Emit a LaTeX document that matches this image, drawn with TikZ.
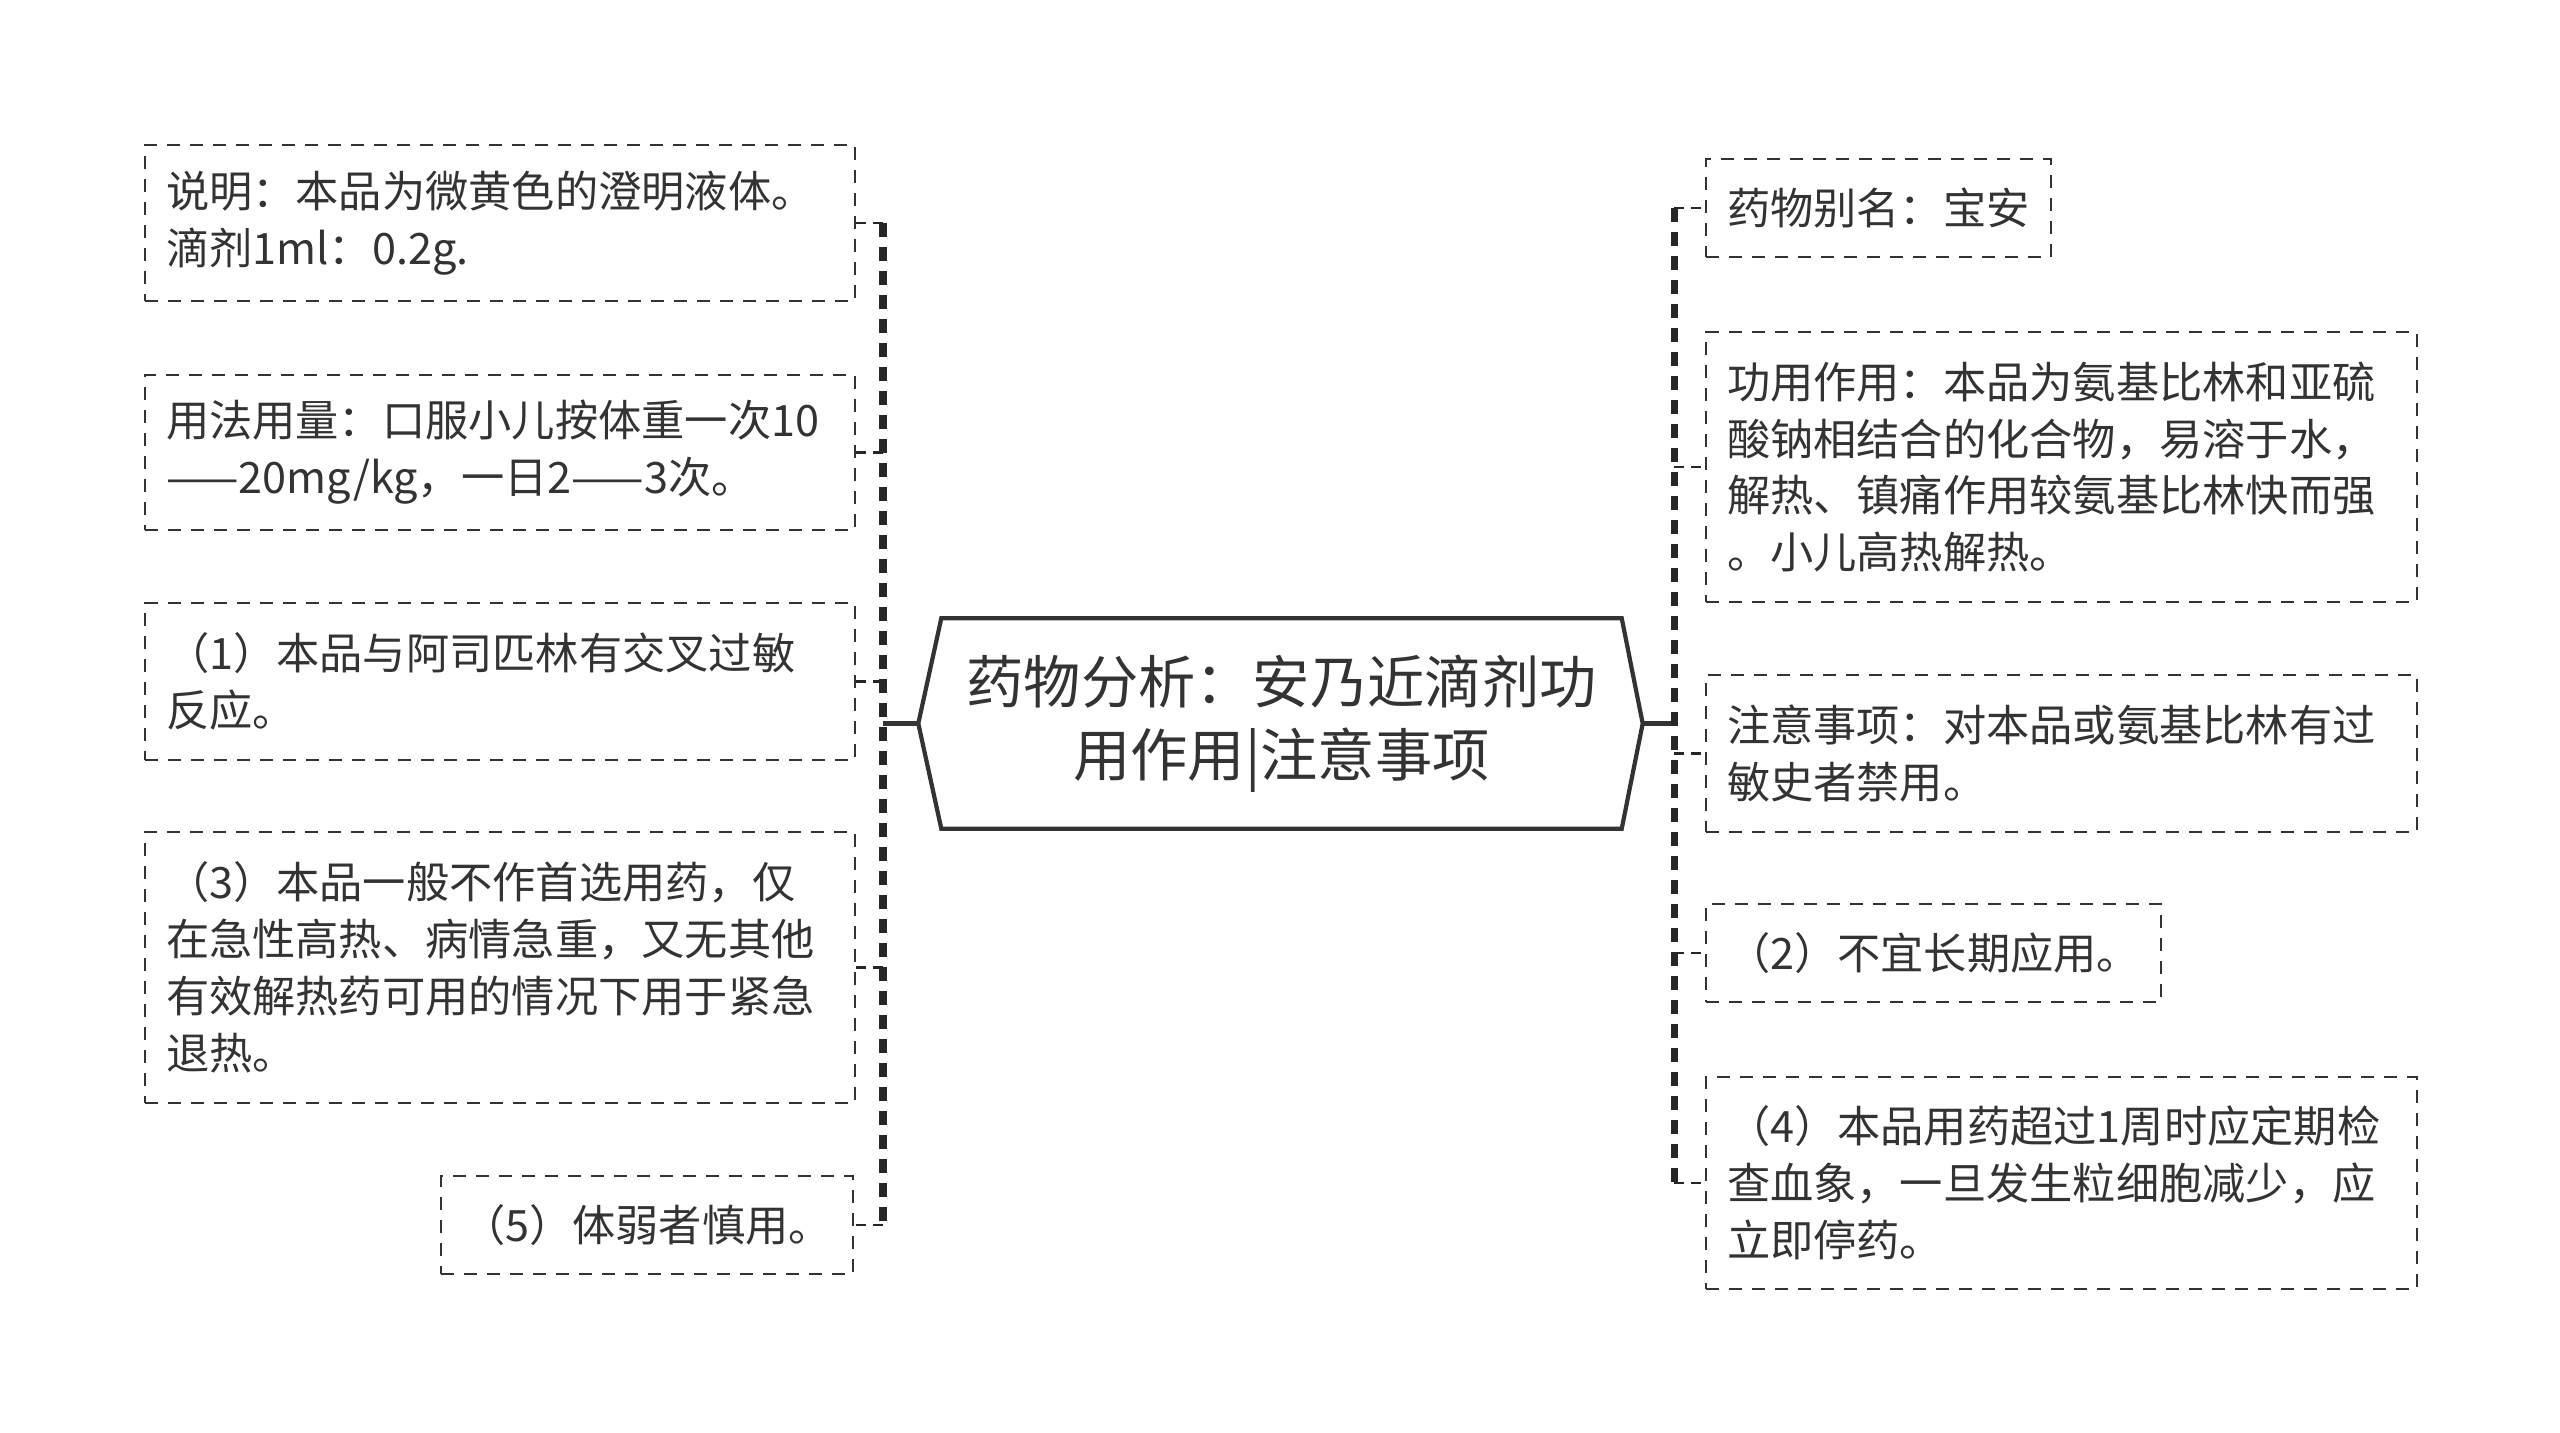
\documentclass[tikz,border=0pt]{standalone}
\usepackage{fontspec}
\setmainfont{Noto Sans CJK SC}
\definecolor{ink}{HTML}{333333}

\tikzset{
  leaf/.style={draw=ink, text=ink, line width=0.6pt, dash pattern=on 0.13cm off 0.1cm,
    inner xsep=0.21cm, inner ysep=0pt, align=left, font=\fontsize{12.3pt}{16.2pt}\selectfont},
  topic/.style={text=ink, inner sep=0pt, minimum width=6.79cm, minimum height=2.09cm,
    align=center, font=\fontsize{16.3pt}{20.8pt}\selectfont},
  spine/.style={black!85, line width=2pt, dash pattern=on 0.14cm off 0.1cm},
  tie/.style={black!85, line width=0.8pt, dash pattern=on 0.1cm off 0.07cm},
}

\begin{document}
\begin{tikzpicture}
    \useasboundingbox (0,0) rectangle (25.6,-14.33);

    % central topic
    \node[topic] (root) at (12.815,-7.235) {药物分析：安乃近滴剂功\\用作用|注意事项};
    \draw[ink, line width=1.2pt] (root.north west) -- (root.north east) -- ([xshift=0.21cm]root.east)
        -- (root.south east) -- (root.south west) -- ([xshift=-0.23cm]root.west) -- cycle;

    % left side
    \node[leaf, anchor=north west, text width=6.68cm, minimum height=1.56cm] (l1) at (1.44,-1.44)
        {说明：本品为微黄色的澄明液体。\\滴剂1ml：0.2g.};
    \node[leaf, anchor=north west, text width=6.68cm, minimum height=1.55cm] (l2) at (1.44,-3.74)
        {用法用量：口服小儿按体重一次10\\——20mg/kg，一日2——3次。};
    \node[leaf, anchor=north west, text width=6.68cm, minimum height=1.57cm] (l3) at (1.44,-6.02)
        {（1）本品与阿司匹林有交叉过敏\\反应。};
    \node[leaf, anchor=north west, text width=6.68cm, minimum height=2.71cm] (l4) at (1.44,-8.31)
        {（3）本品一般不作首选用药，仅\\在急性高热、病情急重，又无其他\\有效解热药可用的情况下用于紧急\\退热。};
    \node[leaf, anchor=north east, minimum width=4.12cm, minimum height=0.98cm] (l5) at (8.54,-11.75)
        {（5）体弱者慎用。};

    % right side
    \node[leaf, anchor=north west, minimum width=3.44cm, minimum height=0.98cm] (r1) at (17.05,-1.58)
        {药物别名：宝安};
    \node[leaf, anchor=north west, text width=6.69cm, minimum height=2.70cm] (r2) at (17.05,-3.31)
        {功用作用：本品为氨基比林和亚硫\\酸钠相结合的化合物，易溶于水，\\解热、镇痛作用较氨基比林快而强\\。小儿高热解热。};
    \node[leaf, anchor=north west, text width=6.69cm, minimum height=1.57cm] (r3) at (17.05,-6.74)
        {注意事项：对本品或氨基比林有过\\敏史者禁用。};
    \node[leaf, anchor=north west, minimum width=4.55cm, minimum height=0.98cm] (r4) at (17.05,-9.03)
        {（2）不宜长期应用。};
    \node[leaf, anchor=north west, text width=6.69cm, minimum height=2.12cm] (r5) at (17.05,-10.76)
        {（4）本品用药超过1周时应定期检\\查血象，一旦发生粒细胞减少，应\\立即停药。};

    % connectors
    \coordinate (lsp) at (8.83,-7.235);
    \coordinate (rsp) at (16.74,-7.235);
    \draw[ink, line width=1.2pt] ([xshift=-0.23cm]root.west) -- (lsp);
    \draw[ink, line width=1.2pt] ([xshift=0.21cm]root.east) -- (rsp);
    \draw[spine] (l1.east -| lsp) -- (l5.east -| lsp);
    \draw[spine] (r1.west -| rsp) -- (r5.west -| rsp);
    \foreach \n in {l1,l2,l3,l4,l5}
        \draw[tie] (\n.east -| lsp) -- (\n.east);
    \foreach \n in {r1,r2,r3,r4,r5}
        \draw[tie] (\n.west -| rsp) -- (\n.west);
\end{tikzpicture}
\end{document}
